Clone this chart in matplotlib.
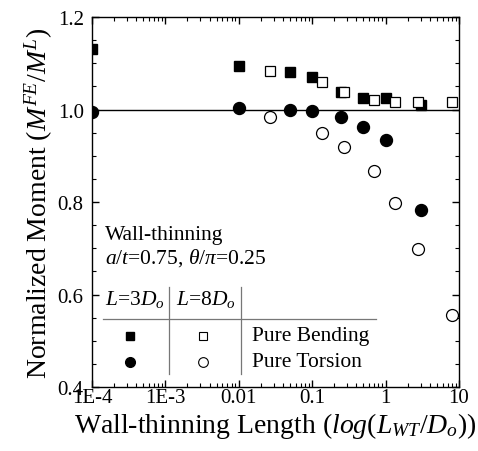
import matplotlib
matplotlib.use('Agg')
import matplotlib.pyplot as plt
from matplotlib.ticker import MultipleLocator, FixedLocator, FixedFormatter, LogLocator, NullFormatter

plt.rcParams['font.family'] = 'Liberation Serif'
plt.rcParams['mathtext.fontset'] = 'custom'
plt.rcParams['mathtext.rm'] = 'Liberation Serif'
plt.rcParams['mathtext.it'] = 'Liberation Serif:italic'

# L=3Do, pure bending / torsion
x_3d = [1e-4, 0.01, 0.05, 0.1, 0.25, 0.5, 1.0, 3.0]
bend_3d = [1.131, 1.095, 1.082, 1.071, 1.039, 1.025, 1.025, 1.010]
tors_3d = [0.994, 1.003, 0.999, 0.996, 0.984, 0.963, 0.935, 0.783]

# L=8Do, pure bending / torsion
x_8d = [0.027, 0.135, 0.27, 0.7, 1.35, 2.8, 8.0]
bend_8d = [1.083, 1.059, 1.038, 1.021, 1.017, 1.016, 1.016]
tors_8d = [0.984, 0.949, 0.920, 0.868, 0.799, 0.698, 0.556]

xticks = [1e-4, 1e-3, 0.01, 0.1, 1, 10]
xtick_labels = ['1E-4', '1E-3', '0.01', '0.1', '1', '10']

fig = plt.figure(figsize=(4.78, 4.52), dpi=100)
ax = fig.add_axes([0.1925, 0.1416, 0.7675, 0.8184])

ax.axhline(1.0, color='black', lw=1.0, zorder=1)

ax.plot(x_3d, bend_3d, 's', color='black', ms=7.5, zorder=3)
ax.plot(x_8d, bend_8d, 's', mfc='white', mec='black', mew=0.9, ms=7.2, zorder=3)
ax.plot(x_3d, tors_3d, 'o', color='black', ms=8.6, zorder=3)
ax.plot(x_8d, tors_8d, 'o', mfc='white', mec='black', mew=0.9, ms=8.6, zorder=3)

ax.set_xscale('log')
ax.set_xlim(1e-4, 10)
ax.set_ylim(0.4, 1.2)
ax.xaxis.set_major_locator(FixedLocator(xticks))
ax.xaxis.set_major_formatter(FixedFormatter(xtick_labels))
ax.xaxis.set_minor_locator(LogLocator(base=10, subs=range(2, 10), numticks=20))
ax.xaxis.set_minor_formatter(NullFormatter())
ax.yaxis.set_major_locator(MultipleLocator(0.2))
ax.yaxis.set_minor_locator(MultipleLocator(0.05))
ax.yaxis.set_major_formatter(plt.FuncFormatter(lambda v, p: '%.1f' % v))

ax.tick_params(which='both', direction='in', top=True, right=True, labelsize=15)
ax.tick_params(which='major', length=5, width=1)
ax.tick_params(which='minor', length=3, width=0.8)
ax.tick_params(axis='x', pad=1)
ax.tick_params(axis='y', pad=6)
for s in ax.spines.values():
    s.set_linewidth(1.0)

ax.set_xlabel(r'Wall-thinning Length ($\mathit{log}(L_{WT}/D_o)$)', fontsize=20, labelpad=2)
ax.set_ylabel(r'Normalized Moment ($M^{FE}/M^{L}$)', fontsize=20, labelpad=2)

# legend block
tr = ax.transAxes
fs = 15.5
ax.text(0.035, 0.4135, 'Wall-thinning', transform=tr, fontsize=fs, va='center')
ax.text(0.035, 0.351, r'$a/t$=0.75, $\theta/\pi$=0.25', transform=tr, fontsize=fs, va='center')
ax.text(0.035, 0.240, r'$L$=3$D_o$', transform=tr, fontsize=fs, va='center')
ax.text(0.229, 0.240, r'$L$=8$D_o$', transform=tr, fontsize=fs, va='center')
ax.plot([0.030, 0.774], [0.184, 0.184], transform=tr, color='#777777', lw=0.9)
ax.plot([0.210, 0.210], [0.035, 0.270], transform=tr, color='#777777', lw=0.9)
ax.plot([0.406, 0.406], [0.035, 0.270], transform=tr, color='#777777', lw=0.9)
ax.plot([0.1035], [0.138], 's', transform=tr, color='black', ms=6)
ax.plot([0.302], [0.138], 's', transform=tr, mfc='white', mec='black', mew=0.8, ms=6.2)
ax.plot([0.1035], [0.0676], 'o', transform=tr, color='black', ms=7)
ax.plot([0.302], [0.0676], 'o', transform=tr, mfc='white', mec='black', mew=0.8, ms=7)
ax.text(0.436, 0.138, 'Pure Bending', transform=tr, fontsize=fs, va='center')
ax.text(0.436, 0.0676, 'Pure Torsion', transform=tr, fontsize=fs, va='center')

fig.savefig('out.png', dpi=100)
